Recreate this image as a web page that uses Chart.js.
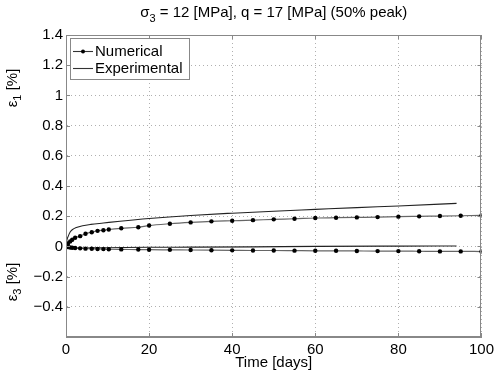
<!DOCTYPE html>
<html><head><meta charset="utf-8">
<script src="https://cdn.jsdelivr.net/npm/chart.js@4.4.0/dist/chart.umd.min.js"></script>
<style>html,body{margin:0;padding:0;background:#fff}#wrap{width:498px;height:372px}</style>
</head><body><div id="wrap"><canvas id="c" width="498" height="372"></canvas></div>
<script>
const numDays = [0, 0.5, 1, 1.5, 2.2, 3.4, 4.7, 6.2, 7.6, 9.0, 10.3, 13.3, 17.4, 20, 25, 30, 35, 40, 45, 50, 55, 60, 65, 70, 75, 80, 85, 90, 95, 100];
const numEps1 = [0, 0.02, 0.033, 0.044, 0.057, 0.068, 0.084, 0.094, 0.103, 0.107, 0.112, 0.12, 0.127, 0.138, 0.15, 0.159, 0.166, 0.17, 0.174, 0.179, 0.183, 0.188, 0.19, 0.192, 0.194, 0.197, 0.199, 0.201, 0.203, 0.205];
const numEps3 = [0, -0.004, -0.007, -0.009, -0.011, -0.013, -0.015, -0.016, -0.017, -0.018, -0.019, -0.02, -0.021, -0.022, -0.023, -0.024, -0.025, -0.026, -0.027, -0.027, -0.028, -0.029, -0.029, -0.030, -0.031, -0.031, -0.032, -0.033, -0.033, -0.034];
const expDays1 = [0, 0.2, 0.5, 1, 1.5, 2.5, 4, 6, 9, 13, 20, 30, 40, 50, 60, 70, 80, 90, 94];
const expEps1 = [0, 0.04, 0.065, 0.095, 0.11, 0.125, 0.137, 0.146, 0.155, 0.167, 0.185, 0.205, 0.22, 0.233, 0.245, 0.257, 0.268, 0.28, 0.285];
const expDays3 = [0, 1, 3, 6, 10, 20, 30, 45, 60, 80, 94];
const expEps3 = [0, -0.01, -0.011, -0.01, -0.009, -0.006, -0.005, -0.003, 0, 0.002, 0.003];
const xTicks = [0, 20, 40, 60, 80, 100];
const yTicks = [-0.6, -0.4, -0.2, 0, 0.2, 0.4, 0.6, 0.8, 1, 1.2, 1.4];
const legendLabels = ['Numerical', 'Experimental'];
const titleParts = ['σ', '3', ' = 12 [MPa], q = 17 [MPa] (50% peak)'];
const xTitle = 'Time [days]';

const FONT = "'Liberation Sans', Arial, sans-serif";
const FS = 15;
const pts = (xs, ys) => xs.map((x, i) => ({x, y: ys[i]}));
const numStyle = {borderColor: '#666', borderWidth: 1.2, pointRadius: 2.2, pointBackgroundColor: '#000', pointBorderColor: '#000', pointBorderWidth: 0, fill: false, cubicInterpolationMode: 'monotone'};
const expStyle = {borderColor: '#222', borderWidth: 1.1, pointRadius: 0, fill: false, cubicInterpolationMode: 'monotone'};

const extras = {
  id: 'extras',
  afterDraw(chart) {
    const ctx = chart.ctx, a = chart.chartArea, xs = chart.scales.x, ys = chart.scales.y;
    ctx.save();
    ctx.strokeStyle = '#888'; ctx.lineWidth = 1;
    ctx.beginPath();
    xTicks.forEach(t => { const px = Math.round(xs.getPixelForValue(t)) + 0.5;
      ctx.moveTo(px, a.bottom); ctx.lineTo(px, a.bottom - 4); ctx.moveTo(px, a.top); ctx.lineTo(px, a.top + 4); });
    yTicks.forEach(t => { const py = Math.round(ys.getPixelForValue(t)) + 0.5;
      ctx.moveTo(a.left, py); ctx.lineTo(a.left + 4, py); ctx.moveTo(a.right, py); ctx.lineTo(a.right - 4, py); });
    ctx.stroke();
    ctx.fillStyle = '#000';
    ctx.textBaseline = 'alphabetic';
    ctx.font = FS + 'px ' + FONT;
    const w0 = ctx.measureText(titleParts[0]).width;
    ctx.font = '11px ' + FONT;
    const w1 = ctx.measureText(titleParts[1]).width;
    ctx.font = FS + 'px ' + FONT;
    const w2 = ctx.measureText(titleParts[2]).width;
    let tx = (a.left + a.right) / 2 - (w0 + w1 + w2) / 2;
    ctx.textAlign = 'left';
    ctx.fillText(titleParts[0], tx, 17);
    ctx.font = '11px ' + FONT;
    ctx.fillText(titleParts[1], tx + w0, 22);
    ctx.font = FS + 'px ' + FONT;
    ctx.fillText(titleParts[2], tx + w0 + w1, 17);
    ctx.textAlign = 'center'; ctx.textBaseline = 'middle';
    ctx.fillText(xTitle, (a.left + a.right) / 2, 363);
    const yLab = (cy, sub) => {
      ctx.save();
      ctx.translate(13, cy); ctx.rotate(-Math.PI / 2);
      ctx.textAlign = 'left'; ctx.textBaseline = 'middle';
      ctx.font = FS + 'px ' + FONT;
      const we = ctx.measureText('ε').width;
      ctx.font = '11px ' + FONT;
      const ws = ctx.measureText(sub).width;
      ctx.font = FS + 'px ' + FONT;
      const wr = ctx.measureText(' [%]').width;
      let x0 = -(we + ws + wr) / 2;
      ctx.fillText('ε', x0, 0);
      ctx.font = '11px ' + FONT; ctx.fillText(sub, x0 + we, 5);
      ctx.font = FS + 'px ' + FONT; ctx.fillText(' [%]', x0 + we + ws, 0);
      ctx.restore();
    };
    yLab(88, '1');
    yLab(282, '3');
    const lx = 70.5, ly = 38.5, lw = 119, lh = 41;
    ctx.fillStyle = '#fff'; ctx.fillRect(lx, ly, lw, lh);
    ctx.strokeStyle = '#888'; ctx.lineWidth = 1; ctx.strokeRect(lx, ly, lw, lh);
    const rows = [51, 68];
    ctx.strokeStyle = '#333'; ctx.lineWidth = 1.1;
    rows.forEach(r => { ctx.beginPath(); ctx.moveTo(73, r + 0.5); ctx.lineTo(93, r + 0.5); ctx.stroke(); });
    ctx.fillStyle = '#000';
    ctx.beginPath(); ctx.arc(83, rows[0] + 0.5, 2, 0, Math.PI * 2); ctx.fill();
    ctx.font = FS + 'px ' + FONT; ctx.textAlign = 'left'; ctx.textBaseline = 'middle';
    legendLabels.forEach((t, i) => ctx.fillText(t, 95, rows[i] + 1));
    ctx.restore();
  }
};

new Chart(document.getElementById('c'), {
  type: 'line',
  data: {
    datasets: [
      Object.assign({label: legendLabels[0], data: pts(numDays, numEps1)}, numStyle),
      Object.assign({label: legendLabels[0] + ' 3', data: pts(numDays, numEps3)}, numStyle),
      Object.assign({label: legendLabels[1], data: pts(expDays1, expEps1)}, expStyle),
      Object.assign({label: legendLabels[1] + ' 3', data: pts(expDays3, expEps3)}, expStyle)
    ]
  },
  options: {
    responsive: false, animation: false, devicePixelRatio: 1,
    layout: {padding: {top: 35, right: 15, left: 0, bottom: 0}},
    plugins: {legend: {display: false}, tooltip: {enabled: false}, title: {display: false}},
    scales: {
      x: {type: 'linear', min: 0, max: 100,
        afterBuildTicks: s => { s.ticks = xTicks.map(v => ({value: v})); },
        afterFit: s => { s.height = 35; },
        ticks: {font: {family: FONT, size: FS}, color: '#000', padding: 4, maxRotation: 0},
        grid: {color: '#b0b0b0', lineWidth: 1, drawTicks: false},
        border: {display: true, color: '#888', dash: [1, 3]}
      },
      y: {type: 'linear', min: -0.6, max: 1.4,
        afterBuildTicks: s => { s.ticks = yTicks.map(v => ({value: v})); },
        afterFit: s => { s.width = 66; },
        ticks: {font: {family: FONT, size: FS}, color: '#000', padding: 3,
          callback: v => Math.abs(v + 0.6) < 1e-6 ? '' : (v < 0 ? '−' + Math.abs(Number(v.toFixed(1))) : String(Number(v.toFixed(1))))},
        grid: {color: '#b0b0b0', lineWidth: 1, drawTicks: false},
        border: {display: true, color: '#888', dash: [1, 3]}
      }
    }
  },
  plugins: [extras, {
    id: 'frame',
    afterDatasetsDraw(chart) {
      const ctx = chart.ctx, a = chart.chartArea;
      ctx.save(); ctx.strokeStyle = '#888'; ctx.lineWidth = 1;
      ctx.strokeRect(Math.round(a.left) + 0.5, Math.round(a.top) + 0.5, Math.round(a.right - a.left) - 1, Math.round(a.bottom - a.top) - 1);
      ctx.restore();
    }
  }]
});
</script></body></html>
